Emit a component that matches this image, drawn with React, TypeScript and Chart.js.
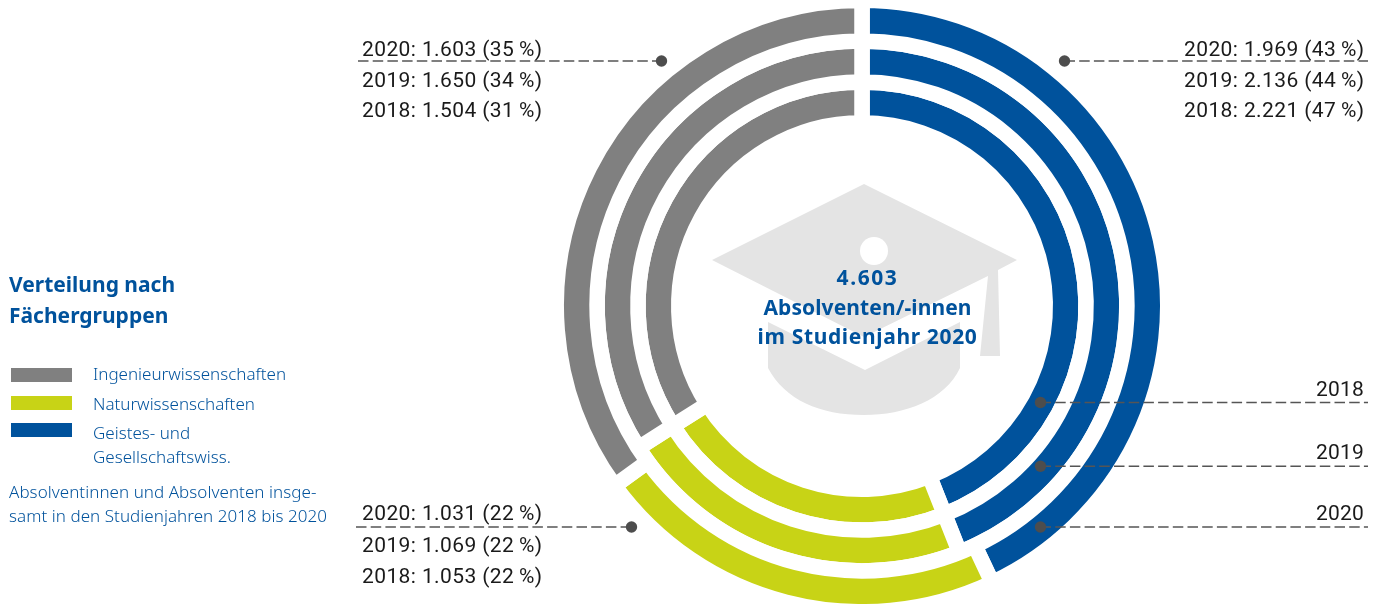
import React, { useEffect, useRef } from "react";
import { Chart, registerables } from "chart.js";

Chart.register(...registerables);

const categories = ["Geistes- und Gesellschaftswiss.", "Naturwissenschaften", "Ingenieurwissenschaften"];
const years = ["2020", "2019", "2018"];
// Ring shares (in %) as drawn in the picture
const ring2020 = [43, 22, 35];
const ring2019 = [44, 22, 34];
const ring2018 = [44, 22, 34];
const colours = ["#00529c", "#c8d316", "#808080"];
const labelsGrey = ["2020: 1.603 (35\u2009%)", "2019: 1.650 (34\u2009%)", "2018: 1.504 (31\u2009%)"];
const labelsBlue = ["2020: 1.969 (43\u2009%)", "2019: 2.136 (44\u2009%)", "2018: 2.221 (47\u2009%)"];
const labelsGreen = ["2020: 1.031 (22\u2009%)", "2019: 1.069 (22\u2009%)", "2018: 1.053 (22\u2009%)"];
const centreLines = ["4.603", "Absolventen/-innen", "im Studienjahr 2020"];
const titleLines = ["Verteilung nach", "Fächergruppen"];
const noteLines = ["Absolventinnen und Absolventen insge-", "samt in den Studienjahren 2018 bis 2020"];

const BLUE = "#00529c";
const LABEL_FONT = '400 21px Roboto';
const HEAD_FONT = '700 21px "Noto Sans"';
const SMALL_FONT = '300 17px "Noto Sans"';

const overlay = {
  id: "overlay",
  beforeDatasetsDraw(chart: any) {
    const c = chart.ctx as CanvasRenderingContext2D;
    c.save();
    // graduation cap watermark
    c.fillStyle = "#e4e4e4";
    c.beginPath();
    c.moveTo(768, 322); c.lineTo(865, 370); c.lineTo(960, 322); c.lineTo(960, 368);
    c.bezierCurveTo(945, 400, 905, 415, 864, 415);
    c.bezierCurveTo(820, 415, 785, 400, 768, 368);
    c.closePath(); c.fill();
    c.beginPath();
    c.moveTo(712, 260); c.lineTo(864, 184); c.lineTo(1017, 260); c.lineTo(998, 270);
    c.lineTo(1000, 356); c.lineTo(980, 356); c.lineTo(988, 276);
    c.lineTo(864, 337); c.closePath(); c.fill();
    c.fillStyle = "#ffffff";
    c.beginPath(); c.arc(874, 251, 14, 0, Math.PI * 2); c.fill();
    c.restore();
  },
  afterDraw(chart: any) {
    const c = chart.ctx as CanvasRenderingContext2D;
    c.save();
    const leader = (x1: number, x2: number, y: number, dx: number) => {
      c.strokeStyle = "#555555"; c.lineWidth = 1.5; c.setLineDash([10.5, 4.2]);
      c.beginPath(); c.moveTo(x1, y); c.lineTo(x2, y); c.stroke();
      c.setLineDash([]); c.fillStyle = "#4d4d4d";
      c.beginPath(); c.arc(dx, y, 5.7, 0, Math.PI * 2); c.fill();
    };
    leader(358, 661.5, 61, 661.5);
    leader(1064.5, 1368, 61, 1064.5);
    leader(356, 631.5, 527, 631.5);
    leader(1040.5, 1368, 402.5, 1040.5);
    leader(1040.5, 1368, 466.3, 1040.5);
    leader(1040.5, 1368, 527, 1040.5);

    const text = (s: string, x: number, y: number, font: string, fill: string, align: CanvasTextAlign = "left", ls = 0) => {
      c.font = font; c.fillStyle = fill; c.textAlign = align; c.textBaseline = "alphabetic";
      (c as any).letterSpacing = ls + "px";
      c.fillText(s, x, y);
      (c as any).letterSpacing = "0px";
    };
    const INK = "#1a1a1a";
    [55.5, 86.5, 116.5].forEach((y, i) => text(labelsGrey[i], 362, y, LABEL_FONT, INK, "left", 0.4));
    [55.5, 86.5, 116.5].forEach((y, i) => text(labelsBlue[i], 1184, y, LABEL_FONT, INK, "left", 0.4));
    [520, 552, 583].forEach((y, i) => text(labelsGreen[i], 362, y, LABEL_FONT, INK, "left", 0.4));
    [396, 459, 520].forEach((y, i) => text(years[2 - i], 1364, y, LABEL_FONT, INK, "right", 0.2));

    [284.5, 314.5, 343.5].forEach((y, i) =>
      text(centreLines[i], 867.5, y, HEAD_FONT, BLUE, "center", [1.6, 0.1, 0.65][i]));
    [292, 323].forEach((y, i) => text(titleLines[i], 9, y, HEAD_FONT, BLUE));

    [[11, 368], [11, 396], [11, 423]].forEach(([x, y], i) => {
      c.fillStyle = colours[[2, 1, 0][i]];
      c.fillRect(x, y, 61, 14);
    });
    text(categories[2], 93, 380, SMALL_FONT, BLUE);
    text(categories[1], 93, 410, SMALL_FONT, BLUE);
    text("Geistes- und", 93, 439, SMALL_FONT, BLUE);
    text("Gesellschaftswiss.", 93, 463, SMALL_FONT, BLUE);
    [498, 522].forEach((y, i) => text(noteLines[i], 9, y, SMALL_FONT, BLUE, "left", 0.05));
    c.restore();
  },
};

export default function App() {
  const ref = useRef<HTMLCanvasElement>(null);
  useEffect(() => {
    document.body.style.margin = "0";
    const chart = new Chart(ref.current!, {
      type: "doughnut",
      data: {
        labels: categories,
        datasets: [ring2020, ring2019, ring2018].map((data, i) => ({
          label: years[i],
          data,
          backgroundColor: colours,
          borderColor: "#ffffff",
          borderWidth: 15.5,
          hoverOffset: 0,
        })),
      },
      options: {
        responsive: false,
        animation: false,
        radius: 305.75,
        cutout: "59.93%",
        layout: { padding: { left: 345, top: 8 } },
        plugins: { legend: { display: false }, tooltip: { enabled: false } },
      },
      plugins: [overlay],
    } as any);
    return () => chart.destroy();
  }, []);
  return <canvas ref={ref} width={1379} height={604} style={{ display: "block" }} />;
}
